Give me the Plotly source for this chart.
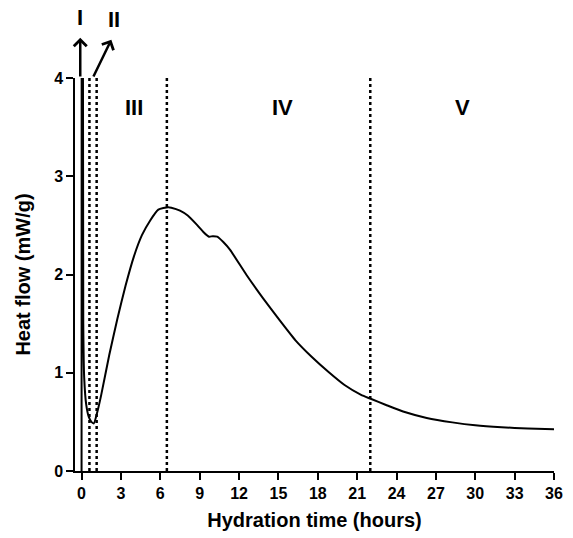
import plotly.graph_objects as go

# Heat-flow curve (hours, mW/g)
time_h = [0, 0.01, 0.1, 0.13, 0.2, 0.35, 0.55, 0.75, 0.94, 1.2, 1.49, 2.11, 2.73, 3.36,
          3.98, 4.6, 5.23, 5.85, 6.6, 6.84, 7.5, 8.09, 8.83, 9.3, 9.71, 10.0, 10.33,
          10.8, 11.32, 12.57, 13.82, 15.06, 16.3, 17.55, 18.8, 20.04, 21.3, 22.03,
          23.2, 24.5, 26.3, 28.25, 30.0, 32.0, 34.0, 36.0]
heat_flow = [0, 6.0, 5.0, 1.5, 0.95, 0.68, 0.55, 0.5, 0.485, 0.6, 0.77, 1.18, 1.55, 1.89,
             2.18, 2.40, 2.55, 2.66, 2.685, 2.68, 2.65, 2.60, 2.50, 2.43, 2.385, 2.39, 2.385,
             2.33, 2.25, 1.995, 1.76, 1.54, 1.33, 1.16, 1.01, 0.875, 0.775, 0.735,
             0.672, 0.605, 0.54, 0.495, 0.465, 0.445, 0.432, 0.424]

# Stage boundaries (hours)
boundaries = [0.6, 1.15, 6.5, 22.0]

# Stage labels in the plot
stage_labels = ["III", "IV", "V"]
stage_x = [4.0, 15.3, 29.0]
stage_y = [3.7, 3.7, 3.7]

# Stage labels with arrows (I, II)
arrow_labels = ["I", "II"]
arrow_tail_x = [-0.1, 0.85]
arrow_tail_y = [4.0, 4.0]
arrow_head_x = [-0.1, 2.27]
arrow_head_y = [4.41, 4.39]
arrow_label_x = [-0.1, 2.45]
arrow_label_y = [1.155, 1.15]   # fraction of plot height

x_ticks = list(range(0, 37, 3))
y_ticks = [0, 1, 2, 3, 4]

FONT = "Arial, Liberation Sans, sans-serif"

fig = go.Figure()
fig.add_trace(go.Scatter(x=time_h, y=heat_flow, mode="lines",
                         line=dict(color="black", width=2, shape="spline", smoothing=0.5),
                         showlegend=False, hoverinfo="skip"))

for b in boundaries:
    fig.add_shape(type="line", x0=b, x1=b, y0=0, y1=4, xref="x", yref="y",
                  line=dict(color="black", width=2.5, dash="dot"))

for t, x, y in zip(stage_labels, stage_x, stage_y):
    fig.add_annotation(x=x, y=y, text=t, showarrow=False, xref="x", yref="y",
                       xanchor="center", yanchor="middle",
                       font=dict(family=FONT, size=22, color="black", weight="bold"))

for t, tx, ty, hx, hy, lx, ly in zip(arrow_labels, arrow_tail_x, arrow_tail_y,
                                      arrow_head_x, arrow_head_y, arrow_label_x, arrow_label_y):
    fig.add_annotation(x=hx, y=hy, ax=tx, ay=ty, xref="x", yref="y", axref="x", ayref="y",
                       text="", showarrow=True, arrowhead=4, arrowsize=1, arrowwidth=2.5,
                       arrowcolor="black", standoff=0, startstandoff=0)
    fig.add_annotation(x=lx, y=ly, text=t, showarrow=False, xref="x", yref="paper",
                       xanchor="center", yanchor="middle",
                       font=dict(family=FONT, size=22, color="black", weight="bold"))

axis_common = dict(showgrid=False, zeroline=False, showline=True, linecolor="black",
                   linewidth=1.5, ticks="outside", ticklen=7, tickwidth=1.5, tickcolor="black",
                   tickfont=dict(family=FONT, size=16, color="black", weight="bold"))

fig.update_xaxes(range=[-0.5, 36], tickvals=x_ticks, **axis_common,
                 title=dict(text="Hydration time (hours)", standoff=12,
                            font=dict(family=FONT, size=20, color="black", weight="bold")))
fig.update_yaxes(range=[0, 4], tickvals=y_ticks, **axis_common,
                 title=dict(text="Heat flow (mW/g)", standoff=18,
                            font=dict(family=FONT, size=20, color="black", weight="bold")))

fig.update_layout(width=573, height=538, margin=dict(l=75, r=10, t=78, b=67),
                  plot_bgcolor="white", paper_bgcolor="white")

fig.write_html("out.html")
